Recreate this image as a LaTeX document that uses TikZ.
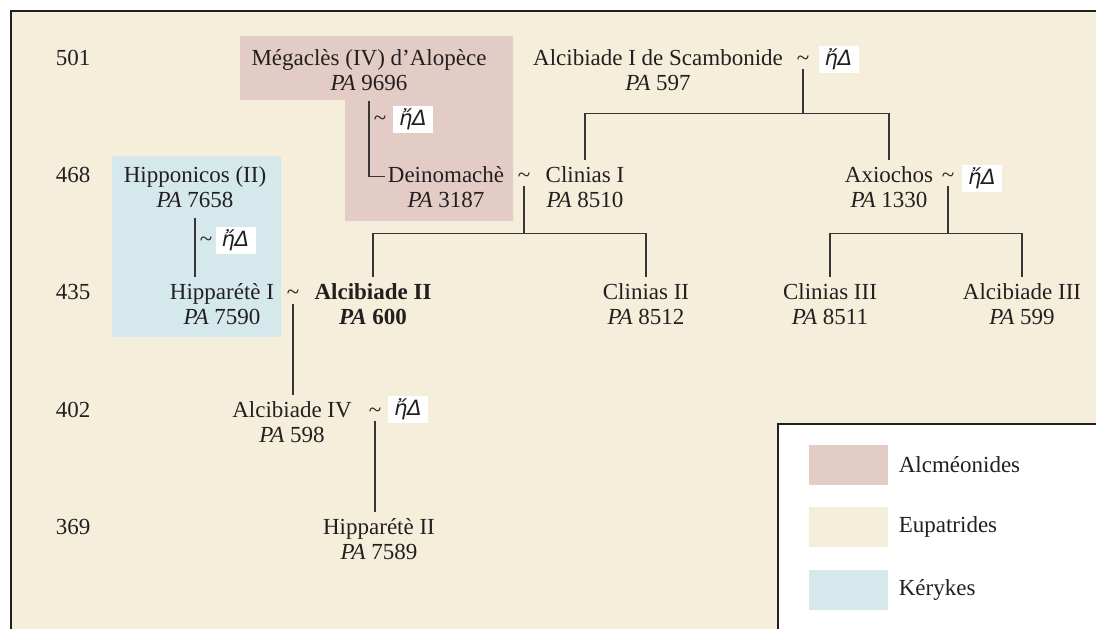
\documentclass[tikz,border=0pt]{standalone}
\usepackage{fontspec}
\setmainfont{Liberation Serif}
\newfontfamily\grkfont{DejaVu Sans}
\usetikzlibrary{positioning}
\definecolor{cream}{RGB}{245,238,218}
\definecolor{alcpink}{RGB}{228,204,198}
\definecolor{kerblue}{RGB}{213,232,236}
\definecolor{ink}{RGB}{35,31,32}
\tikzset{link/.style={draw=ink!90, line width=0.65pt}}
\tikzset{frame/.style={draw=ink, line width=1.1pt}}
\tikzset{person/.style={anchor=base, text=ink, inner xsep=1pt, inner ysep=3pt, text height=8pt, text depth=2.5pt}}
\tikzset{pa/.style={person, yshift=-12.5pt}}
\tikzset{tilde/.style={anchor=base, text=ink, inner sep=2pt, text depth=0pt}}
\tikzset{eta/.style={fill=white, text=ink, minimum width=20pt, minimum height=13.5pt, inner sep=0pt, font=\grkfont\itshape\fontsize{10.5}{12}\selectfont}}
\tikzset{year/.style={anchor=base, text=ink}}
\tikzset{swatch/.style={minimum width=39.5pt, minimum height=20pt, inner sep=0pt}}
\tikzset{key/.style={text=ink, inner sep=0pt}}

\begin{document}
\begin{tikzpicture}[x=0.5pt, y=-0.5pt, font=\fontsize{11.5}{13}\selectfont]
\useasboundingbox (0,0) rectangle (1096,628);
% family areas
\fill[cream] (11,11) rectangle (1100,632);
\draw[frame] (11,632) -- (11,11) -- (1100,11);
\fill[alcpink] (240,36) -- (513,36) -- (513,221) -- (345,221) -- (345,100) -- (240,100) -- cycle;
\fill[kerblue] (112,156) rectangle (281,337);

% years
\node[year] (y501) at (73,65) {501};
\node[year] (y468) at (73,182) {468};
\node[year] (y435) at (73,299.5) {435};
\node[year] (y402) at (73,417) {402};
\node[year] (y369) at (73,534) {369};

% 501
\path (369,65) node[person] (megacles) {Mégaclès (IV) d’Alopèce} node[pa] (megaclesPA) {\textit{PA} 9696};
\path (658,65) node[person] (alcib1) {Alcibiade I de Scambonide} node[pa] (alcib1PA) {\textit{PA} 597};
\node[tilde] (tAlcI) at (803,65) {\textasciitilde};
\node[eta] (etaAlcI) at (838.5,59) {ἤΔ};

% 468
\node[tilde] (tMeg) at (380,125) {\textasciitilde};
\node[eta] (etaMeg) at (413,119.5) {ἤΔ};
\path (195,182) node[person] (hipponicos) {Hipponicos (II)} node[pa] (hipponicosPA) {\textit{PA} 7658};
\path (446,182) node[person] (deinomache) {Deinomachè} node[pa] (deinomachePA) {\textit{PA} 3187};
\node[tilde] (tDein) at (524,182) {\textasciitilde};
\path (585,182) node[person] (clinias1) {Clinias I} node[pa] (clinias1PA) {\textit{PA} 8510};
\path (889,182) node[person] (axiochos) {Axiochos} node[pa] (axiochosPA) {\textit{PA} 1330};
\node[tilde] (tAxio) at (948,182) {\textasciitilde};
\node[eta] (etaAxio) at (982,178.5) {ἤΔ};

% 435
\node[tilde] (tHippo) at (206,246) {\textasciitilde};
\node[eta] (etaHippo) at (235.5,240) {ἤΔ};
\path (222,299.5) node[person] (hipparete1) {Hipparétè I} node[pa] (hipparete1PA) {\textit{PA} 7590};
\node[tilde] (tHipp) at (293,299.5) {\textasciitilde};
\path (373,299.5) node[person] (alcib2) {\textbf{Alcibiade II}} node[pa] (alcib2PA) {\textbf{\textit{PA} 600}};
\path (646,299.5) node[person] (clinias2) {Clinias II} node[pa] (clinias2PA) {\textit{PA} 8512};
\path (830,299.5) node[person] (clinias3) {Clinias III} node[pa] (clinias3PA) {\textit{PA} 8511};
\path (1022,299.5) node[person] (alcib3) {Alcibiade III} node[pa] (alcib3PA) {\textit{PA} 599};

% 402
\path (292,417) node[person] (alcib4) {Alcibiade IV} node[pa] (alcib4PA) {\textit{PA} 598};
\node[tilde] (tAlc4) at (375,417) {\textasciitilde};
\node[eta] (etaAlc4) at (408,409.5) {ἤΔ};

% 369
\path (379,534) node[person] (hipparete2) {Hipparétè II} node[pa] (hipparete2PA) {\textit{PA} 7589};

% links
\draw[link] (tAlcI.south) -- ++(0,44) coordinate (forkI);
\draw[link] (clinias1.north) |- (forkI) -| (axiochos.north);
\draw[link] (megaclesPA.south) |- (deinomache.west);
\draw[link] (tDein.south) -- ++(0,47) coordinate (forkD);
\draw[link] (alcib2.north) |- (forkD) -| (clinias2.north);
\draw[link] (tAxio.south) -- ++(0,47) coordinate (forkX);
\draw[link] (clinias3.north) |- (forkX) -| (alcib3.north);
\draw[link] (hipponicosPA.south) -- (hipponicosPA.south |- hipparete1.north);
\draw[link] (tHipp.south) -- (tHipp.south |- alcib4.north);
\draw[link] (tAlc4.south) -- (tAlc4.south |- hipparete2.north);

% legend
\filldraw[fill=white, frame] (778,424) rectangle (1100,632);
\node[swatch, fill=alcpink] (swAlc) at (848.5,465) {};
\node[swatch, fill=cream] (swEup) at (848.5,527) {};
\node[swatch, fill=kerblue] (swKer) at (848.5,590) {};
\node[key, right=5pt of swAlc] (kAlc) {Alcméonides};
\node[key, right=5pt of swEup] (kEup) {Eupatrides};
\node[key, right=5pt of swKer] (kKer) {Kérykes};
\end{tikzpicture}
\end{document}
